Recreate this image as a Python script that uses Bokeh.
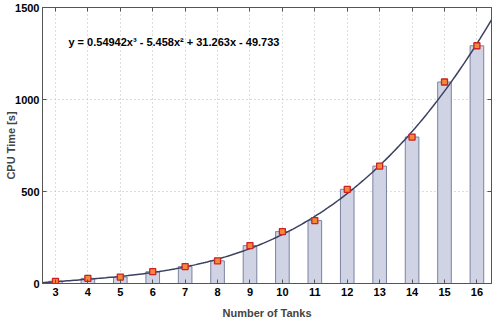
from bokeh.plotting import figure
from bokeh.models import Range1d, LinearAxis, FixedTicker, Label, ColumnDataSource
from bokeh.embed import file_html
from bokeh.resources import INLINE
import numpy as np

tanks = [3, 4, 5, 6, 7, 8, 9, 10, 11, 12, 13, 14, 15, 16]
cpu_time = [12, 28, 35, 64, 92, 123, 206, 282, 342, 512, 638, 796, 1095, 1292]
fit_coeffs = [0.54942, -5.458, 31.263, -49.733]
eq_text = "y = 0.54942x\u00b3 - 5.458x\u00b2 + 31.263x - 49.733"
y_ticks = [0, 500, 1000, 1500]

FONT = "Liberation Sans"

p = figure(width=492, height=322, output_backend="svg", toolbar_location=None,
           x_range=Range1d(2.6, 16.45), y_range=Range1d(0, 1500),
           min_border_left=42, min_border_right=1, min_border_top=7, min_border_bottom=39)
p.outline_line_color = "#555555"
p.background_fill_color = "white"
p.border_fill_color = "white"

p.xaxis.ticker = FixedTicker(ticks=tanks)
p.yaxis.ticker = FixedTicker(ticks=y_ticks)
for ax in [p.xaxis[0], p.yaxis[0]]:
    ax.major_label_text_font = FONT
    ax.major_label_text_font_style = "bold"
    ax.major_label_text_font_size = "11px"
    ax.major_label_text_color = "black"
    ax.axis_label_text_font = FONT
    ax.axis_label_text_font_style = "bold"
    ax.axis_label_text_font_size = "11px"
    ax.major_tick_in = 4
    ax.major_tick_out = 0
    ax.minor_tick_line_color = None
    ax.axis_line_color = "#555555"
    ax.major_tick_line_color = "#555555"
p.xaxis.axis_label = "Number of Tanks"
p.yaxis.axis_label = "CPU Time [s]"
p.xaxis.major_label_standoff = 4
p.yaxis.major_label_standoff = 3
p.xaxis.axis_label_standoff = 8
p.yaxis.axis_label_standoff = -5

top = LinearAxis(ticker=FixedTicker(ticks=tanks), major_label_text_color=None,
                 major_tick_in=4, major_tick_out=0, minor_tick_line_color=None,
                 major_label_standoff=0,
                 axis_line_color="#555555", major_tick_line_color="#555555")
right = LinearAxis(ticker=FixedTicker(ticks=y_ticks), major_label_text_color=None,
                   major_tick_in=4, major_tick_out=0, minor_tick_line_color=None,
                   major_label_standoff=0,
                   axis_line_color="#555555", major_tick_line_color="#555555")
p.add_layout(top, "above")
p.add_layout(right, "right")

p.xgrid.ticker = FixedTicker(ticks=tanks)
p.ygrid.ticker = FixedTicker(ticks=y_ticks)
p.grid.grid_line_color = "#bbbbbb"
p.grid.grid_line_dash = "1 3"

src = ColumnDataSource(dict(x=tanks, y=cpu_time))
p.vbar(x="x", top="y", width=0.42, bottom=0, source=src,
       fill_color="#cfd3e4", line_color="#7c83a0", line_width=1)

xs = np.linspace(2.6, 16.45, 200)
ys = np.polyval(fit_coeffs, xs)
p.line(xs, ys, line_color="#3b4060", line_width=1.5)

p.scatter(x="x", y="y", source=src, marker="square", size=6,
          fill_color="#f08a3a", line_color="#cc2222", line_width=1.3)

p.add_layout(Label(x=3.4, y=1313, text=eq_text, text_font=FONT, text_font_style="bold",
                   text_font_size="11px", text_baseline="middle", text_color="black"))

open("out.html", "w").write(file_html(p, INLINE))
